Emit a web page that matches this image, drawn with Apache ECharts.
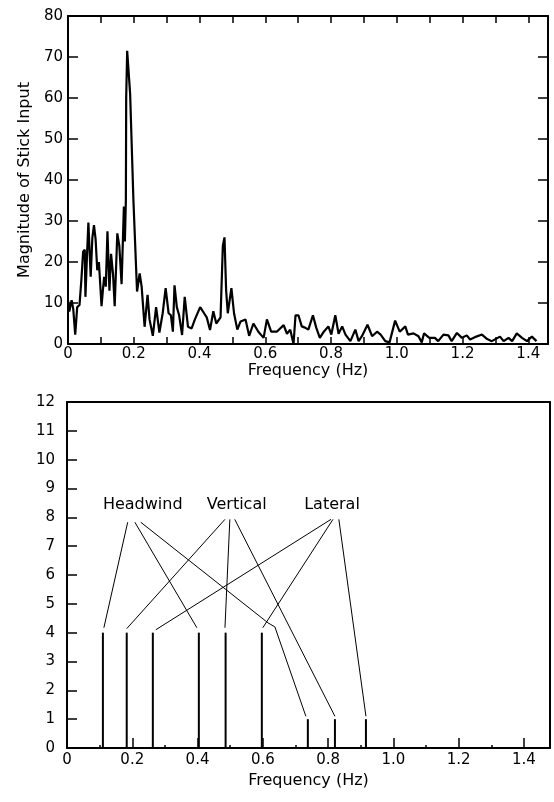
<!DOCTYPE html>
<html>
<head>
<meta charset="utf-8">
<script src="https://cdn.jsdelivr.net/npm/echarts@6/dist/echarts.min.js"></script>
<style>
  html, body { margin: 0; padding: 0; background: #fff; }
  #main { width: 554px; height: 802px; }
</style>
</head>
<body>
<div id="main"></div>
<script>
// top panel: spectrum of stick input
var freq = [0, 0.004, 0.011, 0.016, 0.022, 0.028, 0.035, 0.041, 0.046, 0.051, 0.053, 0.058, 0.062, 0.069,
  0.074, 0.079, 0.084, 0.089, 0.094, 0.102, 0.106, 0.110, 0.115, 0.120, 0.126, 0.131, 0.137, 0.142,
  0.150, 0.156, 0.163, 0.170, 0.173, 0.176, 0.177, 0.180, 0.189, 0.199, 0.210, 0.218, 0.224, 0.233,
  0.242, 0.248, 0.258, 0.268, 0.278, 0.288, 0.297, 0.306, 0.313, 0.319, 0.324, 0.331, 0.338, 0.347,
  0.355, 0.365, 0.376, 0.386, 0.402, 0.414, 0.422, 0.432, 0.442, 0.451, 0.464, 0.471, 0.476, 0.481,
  0.486, 0.497, 0.505, 0.515, 0.525, 0.540, 0.551, 0.564, 0.579, 0.595, 0.605, 0.618, 0.635, 0.656,
  0.666, 0.676, 0.686, 0.692, 0.701, 0.711, 0.721, 0.731, 0.745, 0.755, 0.766, 0.778, 0.792, 0.801,
  0.813, 0.823, 0.834, 0.844, 0.859, 0.874, 0.884, 0.894, 0.911, 0.925, 0.940, 0.951, 0.965, 0.978,
  0.995, 1.009, 1.026, 1.034, 1.051, 1.066, 1.076, 1.083, 1.099, 1.116, 1.126, 1.142, 1.157, 1.167,
  1.183, 1.198, 1.213, 1.223, 1.242, 1.259, 1.275, 1.289, 1.314, 1.325, 1.340, 1.351, 1.365, 1.381,
  1.396, 1.411, 1.425];
var magnitude = [10.7, 7.9, 10.7, 8.5, 2.3, 9, 9.5, 16, 22.5, 23, 11.5, 22, 29.6, 16.4,
  25.8, 29, 25.5, 18, 20, 9.2, 13, 16.4, 14, 27.5, 13, 22, 17, 9.2,
  27, 24, 14.6, 33.5, 25, 35, 60, 71.5, 61, 35, 12.8, 17.2, 14, 4.2,
  12, 6, 2, 9, 2.8, 7.5, 13.6, 7.5, 7, 3, 14.3, 9, 7, 2.2,
  11.5, 4.2, 3.8, 6, 9, 7.5, 6.5, 3.4, 8, 5, 6.5, 24, 26, 13,
  7.5, 13.6, 7.5, 3.5, 5.5, 6, 2, 5, 3, 1.5, 6, 3, 3, 4.6,
  2.5, 3.5, 0, 7, 7, 4.3, 4, 3.5, 7, 4, 1.5, 3, 4.3, 2.3,
  7, 2.5, 4.3, 2.3, 0.7, 3.5, 0.7, 1.9, 4.7, 1.9, 3, 2.3, 0.7, 0.4,
  5.7, 3, 4.3, 2.3, 2.6, 1.9, 0.4, 2.6, 1.5, 1.5, 0.7, 2.3, 2.1, 0.7,
  2.7, 1.5, 2.1, 1.1, 1.8, 2.3, 1.2, 0.7, 1.8, 0.7, 1.5, 0.7, 2.6, 1.5,
  0.7, 1.8, 0.7];

// bottom panel: disturbance frequencies
var spikeFreq = [0.110, 0.183, 0.263, 0.404, 0.486, 0.597, 0.738, 0.821, 0.916];
var spikeHeight = [4, 4, 4, 4, 4, 4, 1, 1, 1];

var groupNames = ['Headwind', 'Vertical', 'Lateral'];
var groupPos = [[0.232, 8.45], [0.520, 8.45], [0.812, 8.45]];

// leader lines from the labels to the spikes
var leaders = [
  [[0.186, 7.83], [0.113, 4.17]],
  [[0.208, 7.83], [0.398, 4.17]],
  [[0.226, 7.83], [0.616, 4.34], [0.637, 4.2], [0.732, 1.1]],
  [[0.484, 7.93], [0.183, 4.14]],
  [[0.499, 7.93], [0.484, 4.17]],
  [[0.514, 7.93], [0.821, 1.1]],
  [[0.809, 7.93], [0.272, 4.1]],
  [[0.815, 7.93], [0.600, 4.17]],
  [[0.833, 7.93], [0.916, 1.1]]
];

var font = 'DejaVu Sans';
var black = '#000';

function freqLabel(v) {
  var r = Math.round(v * 10);
  if (r % 2) return '';
  return r === 0 ? '0' : (r / 10).toFixed(1);
}

var spectrum = [];
for (var i = 0; i < freq.length; i++) spectrum.push([freq[i], magnitude[i]]);

var spikes = [];
for (var j = 0; j < spikeFreq.length; j++) spikes.push([spikeFreq[j], spikeHeight[j]]);

var labelPts = groupNames.map(function (n, k) { return { name: n, value: groupPos[k] }; });

var lineAx = { onZero: false, lineStyle: { color: black, width: 2 } };
var txt = { color: black, fontFamily: font, fontSize: 15 };
var tickIn = function (len) {
  return { inside: true, length: len, lineStyle: { color: black, width: 1.5 } };
};

var chart = echarts.init(document.getElementById('main'));
chart.setOption({
  animation: false,
  backgroundColor: '#fff',
  grid: [
    { left: 68, top: 16, width: 480, height: 328 },
    { left: 67, top: 402, width: 483, height: 346 }
  ],
  xAxis: [
    { type: 'value', gridIndex: 0, min: 0, max: 1.46, interval: 0.1,
      axisLine: lineAx, splitLine: { show: false }, axisTick: tickIn(7),
      axisLabel: Object.assign({ margin: 3, formatter: freqLabel, showMaxLabel: false }, txt),
      name: 'Frequency (Hz)', nameLocation: 'middle', nameGap: 12,
      nameTextStyle: { color: black, fontFamily: font, fontSize: 16 } },
    { type: 'value', gridIndex: 0, position: 'top', min: 0, max: 1.46, interval: 0.1,
      axisLine: lineAx, splitLine: { show: false }, axisLabel: { show: false },
      axisTick: tickIn(7) },
    { type: 'value', gridIndex: 1, min: 0, max: 1.48, interval: 0.2,
      axisLine: lineAx, splitLine: { show: false }, axisTick: tickIn(10),
      minorTick: { show: true, splitNumber: 2, length: 3, lineStyle: { color: black, width: 1.5 } },
      axisLabel: Object.assign({ margin: 5, formatter: freqLabel, showMaxLabel: false }, txt),
      name: 'Frequency (Hz)', nameLocation: 'middle', nameGap: 25,
      nameTextStyle: { color: black, fontFamily: font, fontSize: 16 } },
    { type: 'value', gridIndex: 1, position: 'top', min: 0, max: 1.48,
      axisLine: lineAx, splitLine: { show: false }, axisLabel: { show: false }, axisTick: { show: false } }
  ],
  yAxis: [
    { type: 'value', gridIndex: 0, min: 0, max: 80, interval: 10,
      axisLine: lineAx, splitLine: { show: false }, axisTick: tickIn(10),
      axisLabel: Object.assign({ margin: 5 }, txt),
      name: 'Magnitude of Stick Input', nameLocation: 'middle', nameGap: 34,
      nameTextStyle: { color: black, fontFamily: font, fontSize: 16 } },
    { type: 'value', gridIndex: 0, position: 'right', min: 0, max: 80, interval: 10,
      axisLine: lineAx, splitLine: { show: false }, axisLabel: { show: false },
      axisTick: tickIn(10) },
    { type: 'value', gridIndex: 1, min: 0, max: 12, interval: 1,
      axisLine: lineAx, splitLine: { show: false }, axisTick: tickIn(10),
      axisLabel: Object.assign({ margin: 12 }, txt) },
    { type: 'value', gridIndex: 1, position: 'right', min: 0, max: 12,
      axisLine: lineAx, splitLine: { show: false }, axisLabel: { show: false }, axisTick: { show: false } }
  ],
  series: [
    { type: 'line', xAxisIndex: 0, yAxisIndex: 0, data: spectrum, symbol: 'none',
      lineStyle: { color: black, width: 2.2 } },
    { type: 'bar', xAxisIndex: 2, yAxisIndex: 2, data: spikes, barWidth: 2,
      itemStyle: { color: black } },
    { type: 'lines', coordinateSystem: 'cartesian2d', xAxisIndex: 2, yAxisIndex: 2, polyline: true,
      data: leaders.map(function (c) { return { coords: c }; }),
      lineStyle: { color: black, width: 1, opacity: 1 } },
    { type: 'scatter', xAxisIndex: 2, yAxisIndex: 2, data: labelPts, symbolSize: 1,
      itemStyle: { color: black, opacity: 0 },
      label: { show: true, position: 'inside', formatter: '{b}', color: black, opacity: 1,
        textBorderWidth: 0, fontFamily: font, fontSize: 16 } }
  ]
});
</script>
</body>
</html>
